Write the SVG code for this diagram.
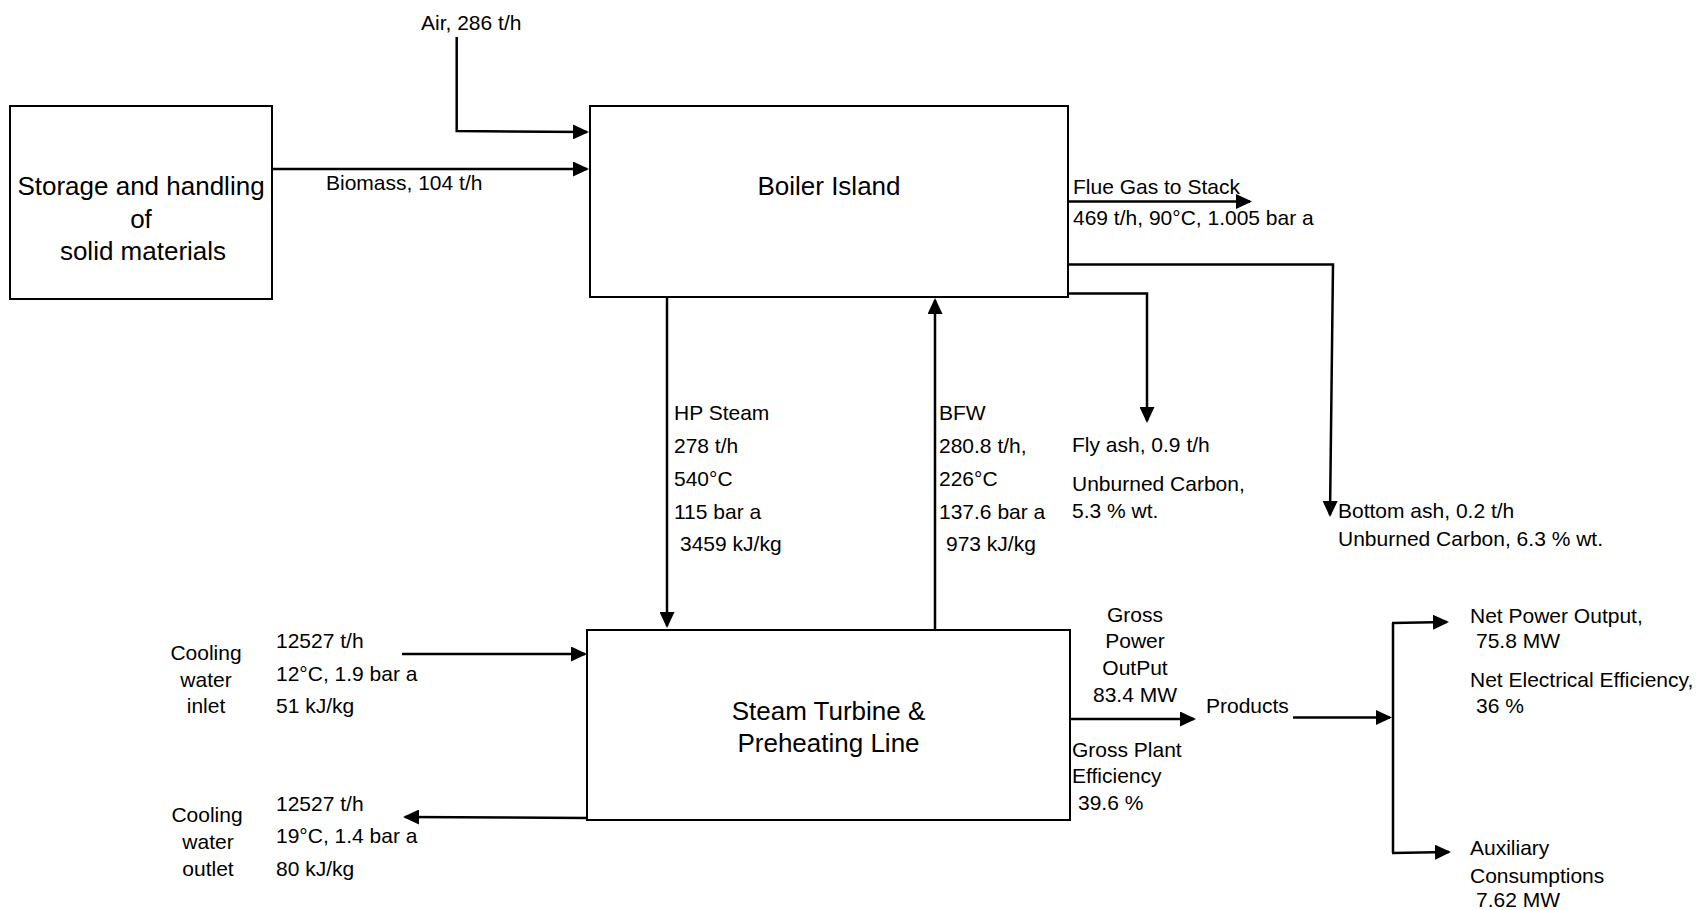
<svg xmlns="http://www.w3.org/2000/svg" width="1701" height="910" viewBox="0 0 1701 910">
<style>
  .box { fill: #ffffff; stroke: #000000; stroke-width: 2; }
  .title { font-family: "Liberation Sans", Arial, sans-serif; font-size: 26px; fill: #000000; text-anchor: middle; }
  .lbl { font-family: "Liberation Sans", Arial, sans-serif; font-size: 21px; fill: #000000; }
  .mid { text-anchor: middle; }
  .conn path { fill: none; stroke: #000000; stroke-width: 2.5; }
  .arr { marker-end: url(#ah); }
</style>
<defs>
  <marker id="ah" markerUnits="userSpaceOnUse" markerWidth="16" markerHeight="15" refX="14" refY="7.5" orient="auto">
    <path d="M0,0 L16,7.5 L0,15 Z" fill="#000000"/>
  </marker>
</defs>
<rect width="1701" height="910" fill="#ffffff"/>

<g id="storage">
  <rect class="box" x="10" y="106" width="262" height="193"/>
  <text class="title" x="141" y="195">Storage and handling</text>
  <text class="title" x="141" y="228">of</text>
  <text class="title" x="143" y="260">solid materials</text>
</g>

<g id="boiler">
  <rect class="box" x="590" y="106" width="478" height="191"/>
  <text class="title" x="829" y="195">Boiler Island</text>
</g>

<g id="turbine">
  <rect class="box" x="587" y="630" width="483" height="190"/>
  <text class="title" x="828.5" y="720">Steam Turbine &amp;</text>
  <text class="title" x="828.5" y="752">Preheating Line</text>
</g>

<g id="connectors" class="conn">
  <path class="arr" d="M456.7,37 V131 L587,132"/>
  <path class="arr" d="M272,169 H587"/>
  <path class="arr" d="M1068,201.5 H1250"/>
  <path class="arr" d="M1068,264.5 H1333 L1330,515"/>
  <path class="arr" d="M1068,293.5 H1147 V421"/>
  <path class="arr" d="M667,297 V626"/>
  <path class="arr" d="M935,630 V300"/>
  <path class="arr" d="M402,654 H585"/>
  <path class="arr" d="M587,818 L405,817"/>
  <path class="arr" d="M1070,719 H1194"/>
  <path class="arr" d="M1293,717.5 H1390"/>
  <path d="M1393,853 V623"/>
  <path class="arr" d="M1392,623 L1447,622"/>
  <path class="arr" d="M1392,853 L1449,852"/>
</g>

<g id="labels">
  <text class="lbl" x="421" y="30">Air, 286 t/h</text>
  <text class="lbl" x="326" y="190">Biomass, 104 t/h</text>
  <text class="lbl" x="1073" y="194">Flue Gas to Stack</text>
  <text class="lbl" x="1073" y="225">469 t/h, 90°C, 1.005 bar a</text>
  <text class="lbl" x="1072" y="452">Fly ash, 0.9 t/h</text>
  <text class="lbl" x="1072" y="491">Unburned Carbon,</text>
  <text class="lbl" x="1072" y="518">5.3 % wt.</text>
  <text class="lbl" x="1338" y="518">Bottom ash, 0.2 t/h</text>
  <text class="lbl" x="1338" y="546">Unburned Carbon, 6.3 % wt.</text>

  <text class="lbl" x="674" y="420">HP Steam</text>
  <text class="lbl" x="674" y="453">278 t/h</text>
  <text class="lbl" x="674" y="486">540°C</text>
  <text class="lbl" x="674" y="519">115 bar a</text>
  <text class="lbl" x="680" y="551">3459 kJ/kg</text>

  <text class="lbl" x="939" y="420">BFW</text>
  <text class="lbl" x="939" y="453">280.8 t/h,</text>
  <text class="lbl" x="939" y="486">226°C</text>
  <text class="lbl" x="939" y="519">137.6 bar a</text>
  <text class="lbl" x="946" y="551">973 kJ/kg</text>

  <text class="lbl mid" x="206" y="660">Cooling</text>
  <text class="lbl mid" x="206" y="687">water</text>
  <text class="lbl mid" x="206" y="713">inlet</text>
  <text class="lbl" x="276" y="648">12527 t/h</text>
  <text class="lbl" x="276" y="681">12°C, 1.9 bar a</text>
  <text class="lbl" x="276" y="713">51 kJ/kg</text>

  <text class="lbl mid" x="207" y="822">Cooling</text>
  <text class="lbl mid" x="208" y="849">water</text>
  <text class="lbl mid" x="208" y="876">outlet</text>
  <text class="lbl" x="276" y="811">12527 t/h</text>
  <text class="lbl" x="276" y="843">19°C, 1.4 bar a</text>
  <text class="lbl" x="276" y="876">80 kJ/kg</text>

  <text class="lbl mid" x="1135" y="622">Gross</text>
  <text class="lbl mid" x="1135" y="648">Power</text>
  <text class="lbl mid" x="1135" y="675">OutPut</text>
  <text class="lbl mid" x="1135" y="702">83.4 MW</text>
  <text class="lbl" x="1206" y="713">Products</text>
  <text class="lbl" x="1072" y="757">Gross Plant</text>
  <text class="lbl" x="1072" y="783">Efficiency</text>
  <text class="lbl" x="1078" y="810">39.6 %</text>

  <text class="lbl" x="1470" y="623">Net Power Output,</text>
  <text class="lbl" x="1476" y="648">75.8 MW</text>
  <text class="lbl" x="1470" y="687">Net Electrical Efficiency,</text>
  <text class="lbl" x="1476" y="713">36 %</text>
  <text class="lbl" x="1470" y="855">Auxiliary</text>
  <text class="lbl" x="1470" y="883">Consumptions</text>
  <text class="lbl" x="1476" y="907">7.62 MW</text>
</g>
</svg>
